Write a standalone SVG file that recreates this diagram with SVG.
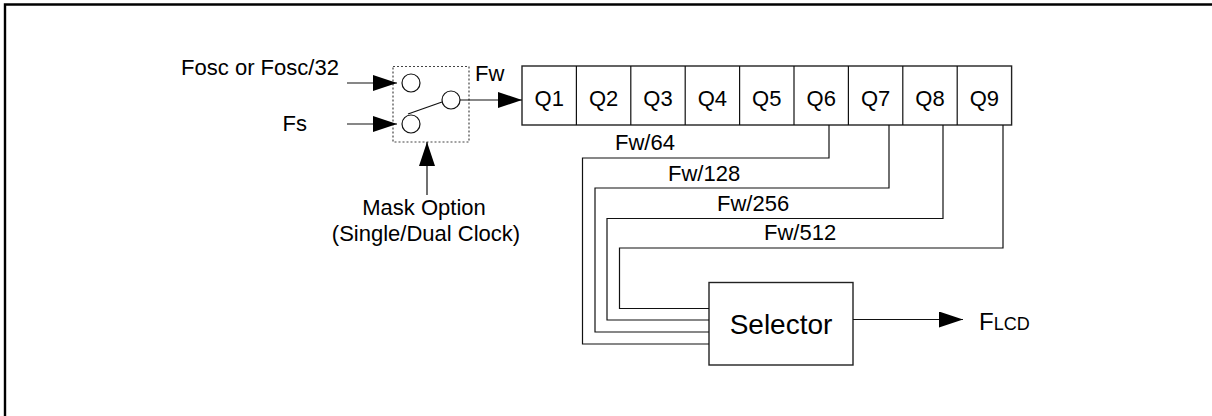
<svg xmlns="http://www.w3.org/2000/svg" width="1212" height="416" viewBox="0 0 1212 416">
<style>
text{font-family:"Liberation Sans",Arial,sans-serif;fill:#000;font-size:22px}
.ln{fill:none;stroke:#111;stroke-width:1.2}
.bx{fill:#fff;stroke:#222;stroke-width:1.4}
.ci{fill:#fff;stroke:#111;stroke-width:1.2}
.mid{text-anchor:middle}
</style>
<defs>
<marker id="ah" markerUnits="userSpaceOnUse" markerWidth="24" markerHeight="16" refX="24" refY="8" orient="auto">
<path d="M0,0 L24,8 L0,16 Z" fill="#000"/>
</marker>
</defs>
<rect x="0" y="0" width="1212" height="416" fill="#fff"/>
<path d="M5,416 V4.5 H1212" fill="none" stroke="#000" stroke-width="2.4"/>

<g id="inputs">
<text x="181" y="75" textLength="158" lengthAdjust="spacingAndGlyphs">Fosc or Fosc/32</text>
<text x="307" y="131" text-anchor="end">Fs</text>
</g>

<g id="switch">
<rect x="393" y="66.5" width="76" height="75.5" fill="none" stroke="#444" stroke-width="1.2" stroke-dasharray="2,2"/>
<circle class="ci" cx="411" cy="83" r="9"/>
<circle class="ci" cx="411" cy="124" r="9"/>
<circle class="ci" cx="451" cy="100" r="9"/>
<line class="ln" x1="408" y1="114" x2="442" y2="102"/>
<text x="475" y="81">Fw</text>
</g>

<g id="mask">
<text class="mid" x="424" y="215">Mask Option</text>
<text class="mid" x="426" y="241">(Single/Dual Clock)</text>
</g>

<g id="register">
<rect class="bx" x="522" y="66" width="489.6" height="59"/>
<path class="ln" d="M576.4,66V125M630.8,66V125M685.2,66V125M739.6,66V125M794,66V125M848.4,66V125M902.8,66V125M957.2,66V125"/>
<text class="mid" x="549.2" y="106">Q1</text>
<text class="mid" x="603.6" y="106">Q2</text>
<text class="mid" x="658" y="106">Q3</text>
<text class="mid" x="712.4" y="106">Q4</text>
<text class="mid" x="766.8" y="106">Q5</text>
<text class="mid" x="821.2" y="106">Q6</text>
<text class="mid" x="875.6" y="106">Q7</text>
<text class="mid" x="930" y="106">Q8</text>
<text class="mid" x="984.4" y="106">Q9</text>
</g>

<g id="selector">
<rect class="bx" x="709" y="282.5" width="144" height="82.5"/>
<text class="mid" x="781" y="334" style="font-size:28px">Selector</text>
</g>

<g id="output">
<text x="979" y="329.5"><tspan style="font-size:24px">F</tspan><tspan style="font-size:18px">LCD</tspan></text>
</g>

<g id="connectors">
<line class="ln" x1="347" y1="83" x2="397" y2="83" marker-end="url(#ah)"/>
<line class="ln" x1="347" y1="124" x2="397" y2="124" marker-end="url(#ah)"/>
<line class="ln" x1="460" y1="100" x2="522" y2="100" marker-end="url(#ah)"/>
<line class="ln" x1="427" y1="195" x2="427" y2="142" marker-end="url(#ah)"/>
<line class="ln" x1="853" y1="319.5" x2="963" y2="319.5" marker-end="url(#ah)"/>
<path class="ln" d="M829,125V158H582.5V344H709"/>
<path class="ln" d="M889,125V188H595V332H709"/>
<path class="ln" d="M943,125V218.5H607V320H709"/>
<path class="ln" d="M1003,125V248H619.5V308.5H709"/>
<text x="615" y="150">Fw/64</text>
<text x="668" y="181">Fw/128</text>
<text x="717" y="211">Fw/256</text>
<text x="764" y="240">Fw/512</text>
</g>
</svg>
